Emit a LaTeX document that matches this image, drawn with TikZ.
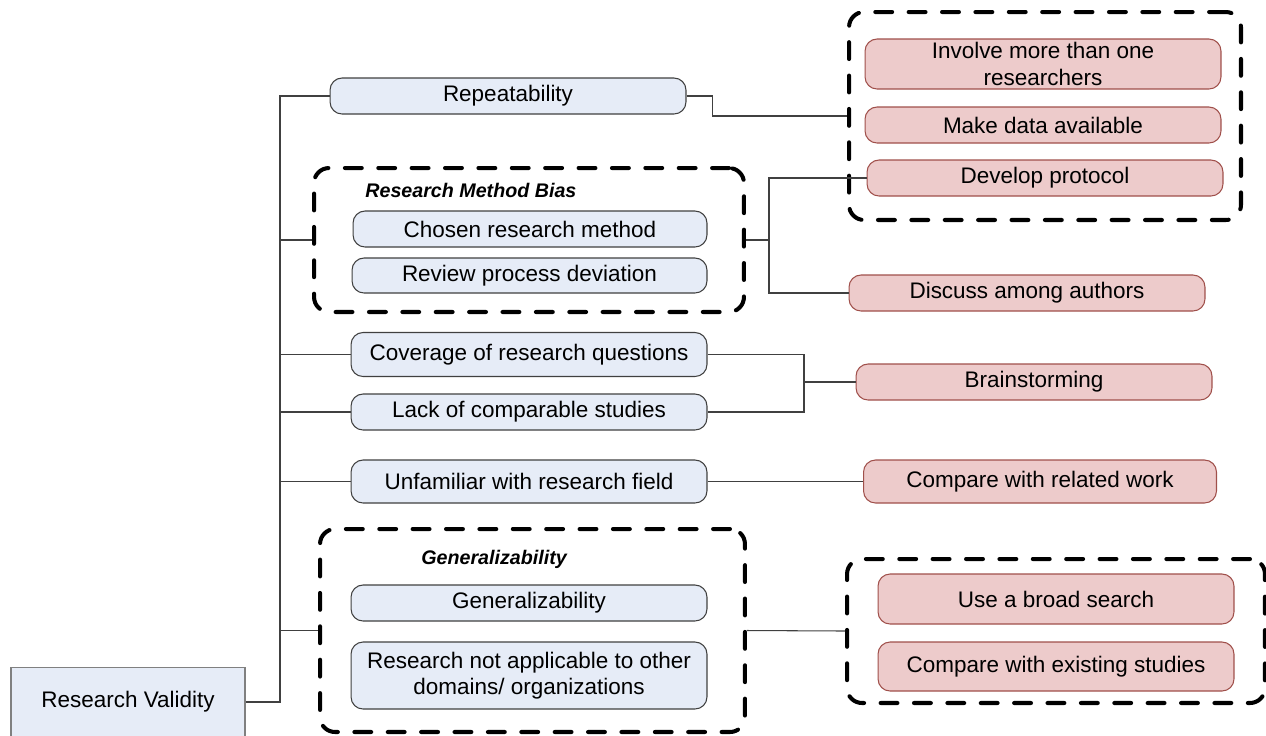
\documentclass[tikz,border=0pt]{standalone}
\usepackage{fontspec}
\setmainfont{Liberation Sans}
\usetikzlibrary{positioning, calc}
\definecolor{causeblue}{RGB}{230,236,247}
\definecolor{causeline}{RGB}{64,64,64}
\definecolor{fixred}{RGB}{237,203,203}
\definecolor{fixline}{RGB}{160,80,75}

\tikzset{
  cause/.style={draw=causeline, fill=causeblue, rounded corners=2.4mm, line width=0.6pt,
                minimum width=7.12cm, minimum height=0.72cm, align=center, inner sep=1pt,
                font=\fontsize{12.8}{15}\selectfont},
  fix/.style={draw=fixline, fill=fixred, rounded corners=2.4mm, line width=0.6pt,
              minimum width=7.12cm, minimum height=0.72cm, align=center, inner sep=1pt,
              font=\fontsize{12.8}{15}\selectfont},
  group/.style={draw, line width=2.3pt, dash pattern=on 9.6pt off 9.4pt, line cap=round,
                rounded corners=3mm, inner sep=0pt},
  grouptitle/.style={anchor=west, inner sep=0pt, font=\fontsize{11.2}{13}\selectfont\bfseries\itshape},
  link/.style={draw=causeline, line width=0.6pt}
}

\begin{document}
\begin{tikzpicture}[x=0.02cm, y=-0.02cm]
\useasboundingbox (0,0) rectangle (1266,735);

% Root
\node[draw=gray, fill=causeblue, line width=0.6pt, minimum width=4.68cm, minimum height=1.4cm,
      font=\fontsize{12.8}{15}\selectfont] (rv) at (128,702) {Research Validity};
\coordinate (trunk) at (280,0);

% Causes
\node[cause] (rep) at (508,96) {Repeatability};

\node[group, minimum width=8.6cm, minimum height=2.88cm] (grpBias) at (529,240) {};
\node[grouptitle] (biasTitle) at (365,190) {Research Method Bias};
\node[cause, minimum width=7.08cm] (chosen) at (530,229) {Chosen research method};
\node[cause, minimum width=7.1cm, minimum height=0.7cm] (review) at (529.5,275.5) {Review process deviation};

\node[cause, minimum height=0.88cm] (coverage) at (529,354.5) {Coverage of research questions};
\node[cause] (lack) at (529,412) {Lack of comparable studies};
\node[cause, minimum height=0.86cm] (unfam) at (529,481.5) {Unfamiliar with research field};

\node[group, minimum width=8.5cm, minimum height=4.06cm] (grpGen) at (532.5,630.5) {};
\node[grouptitle] (genTitle) at (421,559) {Generalizability};
\node[cause] (gen) at (529,603) {Generalizability};
\node[cause, minimum height=1.34cm] (notAppl) at (529,675.5) {Research not applicable to other\\domains/ organizations};

% Mitigations
\node[group, minimum width=7.84cm, minimum height=4.16cm] (grpRep) at (1045,116) {};
\node[fix, minimum height=1cm] (involve) at (1043,64) {Involve more than one\\researchers};
\node[fix] (makeData) at (1043,125) {Make data available};
\node[fix] (protocol) at (1045,178) {Develop protocol};

\node[fix] (discuss) at (1027,293) {Discuss among authors};
\node[fix] (brain) at (1034,382) {Brainstorming};
\node[fix, minimum width=7.06cm, minimum height=0.86cm] (related) at (1040,481.5) {Compare with related work};

\node[group, minimum width=8.36cm, minimum height=2.88cm] (grpSearch) at (1056,631) {};
\node[fix, minimum height=1cm] (broad) at (1056,599) {Use a broad search};
\node[fix, minimum height=0.98cm] (existing) at (1056,666.5) {Compare with existing studies};

% Tree on the left
\draw[link] (rv.east) -| (trunk |- rep.west) -- (rep.west);
\foreach \n in {grpBias, coverage, lack, unfam, grpGen}
  \draw[link] (trunk |- \n.west) -- (\n.west);

% Links to mitigations
\draw[link] (rep.east) -- ++(26,0) |- (grpRep.west);

\coordinate (biasFork) at (769,240);
\draw[link] (grpBias.east) -- (biasFork);
\draw[link] (protocol.west) -| (biasFork) |- (discuss.west);

\coordinate (brainFork) at (804,382);
\draw[link] (coverage.east) -| (brainFork);
\draw[link] (lack.east) -| (brainFork);
\draw[link] (brainFork) -- (brain.west);

\draw[link] (unfam.east) -- (related.west);
\draw[link] (grpGen.east) -- (grpSearch.west);

\end{tikzpicture}
\end{document}
